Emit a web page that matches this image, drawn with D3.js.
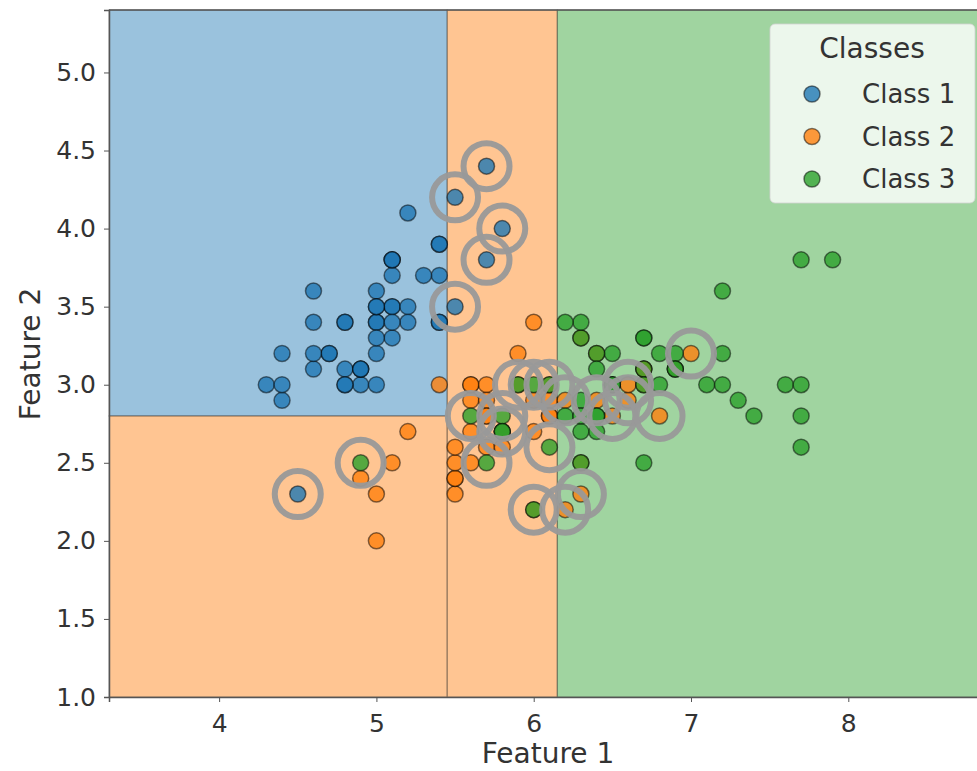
<!DOCTYPE html>
<html>
<head>
<meta charset="utf-8">
<script src="https://cdn.jsdelivr.net/npm/d3@7"></script>
<style>
    body { margin: 0; background: #fff; }
    text { font-family: "DejaVu Sans", sans-serif; fill: #333; }
</style>
</head>
<body>
<script>
// sepal length / sepal width per class
const class1 = [
    [5.1,3.5],[4.9,3.0],[4.7,3.2],[4.6,3.1],[5.0,3.6],[5.4,3.9],[4.6,3.4],[5.0,3.4],[4.4,2.9],[4.9,3.1],
    [5.4,3.7],[4.8,3.4],[4.8,3.0],[4.3,3.0],[5.8,4.0],[5.7,4.4],[5.4,3.9],[5.1,3.5],[5.7,3.8],[5.1,3.8],
    [5.4,3.4],[5.1,3.7],[4.6,3.6],[5.1,3.3],[4.8,3.4],[5.0,3.0],[5.0,3.4],[5.2,3.5],[5.2,3.4],[4.7,3.2],
    [4.8,3.1],[5.4,3.4],[5.2,4.1],[5.5,4.2],[4.9,3.1],[5.0,3.2],[5.5,3.5],[4.9,3.1],[4.4,3.0],[5.1,3.4],
    [5.0,3.5],[4.5,2.3],[4.4,3.2],[5.0,3.5],[5.1,3.8],[4.8,3.0],[5.1,3.8],[4.6,3.2],[5.3,3.7],[5.0,3.3]
]
const class2 = [
    [7.0,3.2],[6.4,3.2],[6.9,3.1],[5.5,2.3],[6.5,2.8],[5.7,2.8],[6.3,3.3],[4.9,2.4],[6.6,2.9],[5.2,2.7],
    [5.0,2.0],[5.9,3.0],[6.0,2.2],[6.1,2.9],[5.6,2.9],[6.7,3.1],[5.6,3.0],[5.8,2.7],[6.2,2.2],[5.6,2.5],
    [5.9,3.2],[6.1,2.8],[6.3,2.5],[6.1,2.8],[6.4,2.9],[6.6,3.0],[6.8,2.8],[6.7,3.0],[6.0,2.9],[5.7,2.6],
    [5.5,2.4],[5.5,2.4],[5.8,2.7],[6.0,2.7],[5.4,3.0],[6.0,3.4],[6.7,3.1],[6.3,2.3],[5.6,3.0],[5.5,2.5],
    [5.5,2.6],[6.1,3.0],[5.8,2.6],[5.0,2.3],[5.6,2.7],[5.7,3.0],[5.7,2.9],[6.2,2.9],[5.1,2.5],[5.7,2.8]
]
const class3 = [
    [6.3,3.3],[5.8,2.7],[7.1,3.0],[6.3,2.9],[6.5,3.0],[7.6,3.0],[4.9,2.5],[7.3,2.9],[6.7,2.5],[7.2,3.6],
    [6.5,3.2],[6.4,2.7],[6.8,3.0],[5.7,2.5],[5.8,2.8],[6.4,3.2],[6.5,3.0],[7.7,3.8],[7.7,2.6],[6.0,2.2],
    [6.9,3.2],[5.6,2.8],[7.7,2.8],[6.3,2.7],[6.7,3.3],[7.2,3.2],[6.2,2.8],[6.1,3.0],[6.4,2.8],[7.2,3.0],
    [7.4,2.8],[7.9,3.8],[6.4,2.8],[6.3,2.8],[6.1,2.6],[7.7,3.0],[6.3,3.4],[6.4,3.1],[6.0,3.0],[6.9,3.1],
    [6.7,3.1],[6.9,3.1],[5.8,2.7],[6.8,3.2],[6.7,3.3],[6.7,3.0],[6.3,2.5],[6.5,3.0],[6.2,3.4],[5.9,3.0]
]

// circled (misclassified) samples
const missed = [
    [5.7,4.4],[5.5,4.2],[5.8,4.0],[5.7,3.8],[5.5,3.5],[4.5,2.3],
    [7.0,3.2],[6.6,3.0],[6.6,2.9],[6.4,2.9],[6.2,2.9],[6.5,2.8],[6.8,2.8],[6.3,2.3],[6.2,2.2],
    [4.9,2.5],[5.6,2.8],[5.8,2.8],[5.8,2.7],[5.7,2.5],[5.9,3.0],[6.0,3.0],[6.1,3.0],[6.1,2.6],[6.0,2.2]
]

// decision regions: [x0, x1, y0, y1, class index]
const regions = [
    [3.3, 5.45, 2.8, 5.4, 0],
    [3.3, 5.45, 1.0, 2.8, 1],
    [5.45, 6.15, 1.0, 5.4, 1],
    [6.15, 8.9, 1.0, 5.4, 2]
]

const classNames = ['Class 1', 'Class 2', 'Class 3']
const xTicks = [4, 5, 6, 7, 8]
const yTicks = [1.0, 1.5, 2.0, 2.5, 3.0, 3.5, 4.0, 4.5, 5.0]

document.addEventListener('DOMContentLoaded', () => {

    const w = 977
    const h = 771
    const left = 109
    const top = 10
    const bottom = 697

    const colors = ['#1f77b4', '#ff7f0e', '#2ca02c']

    const svg = d3.select('body')
        .append('svg')
        .attr('width', w)
        .attr('height', h)

    const x = d3.scaleLinear().domain([3.3, 8.9]).range([left, left + 5.6 * 157.3])
    const y = d3.scaleLinear().domain([1.0, 5.4]).range([bottom, top])

    // regions
    svg.append('g')
        .selectAll('rect')
        .data(regions)
        .enter()
        .append('rect')
        .attr('x', d => x(d[0]))
        .attr('y', d => y(d[3]))
        .attr('width', d => x(d[1]) - x(d[0]))
        .attr('height', d => y(d[2]) - y(d[3]))
        .attr('fill', d => colors[d[4]])
        .attr('fill-opacity', 0.45)
        .attr('stroke', 'rgba(60,60,60,0.4)')
        .attr('stroke-width', 1.2)

    // points
    const groups = [class1, class2, class3]
    groups.forEach((pts, i) => {
        svg.append('g')
            .selectAll('circle')
            .data(pts)
            .enter()
            .append('circle')
            .attr('cx', d => x(d[0]))
            .attr('cy', d => y(d[1]))
            .attr('r', 8)
            .attr('fill', colors[i])
            .attr('fill-opacity', 0.8)
            .attr('stroke', 'rgba(0,0,0,0.5)')
            .attr('stroke-width', 1.5)
    })

    // rings around misclassified points
    svg.append('g')
        .selectAll('circle')
        .data(missed)
        .enter()
        .append('circle')
        .attr('cx', d => x(d[0]))
        .attr('cy', d => y(d[1]))
        .attr('r', 23)
        .attr('fill', 'none')
        .attr('stroke', '#999')
        .attr('stroke-opacity', 0.95)
        .attr('stroke-width', 6)

    // axes
    const xAxis = svg.append('g')
        .attr('transform', `translate(0,${bottom})`)
        .call(d3.axisBottom(x).tickValues(xTicks).tickSize(5).tickPadding(12).tickFormat(d3.format('d')))
    const yAxis = svg.append('g')
        .attr('transform', `translate(${left},0)`)
        .call(d3.axisLeft(y).tickValues(yTicks).tickSize(5).tickPadding(8).tickFormat(d3.format('.1f')))

    ;[xAxis, yAxis].forEach(a => {
        a.select('.domain').attr('stroke', '#555').attr('stroke-width', 1.5)
        a.selectAll('.tick line').attr('stroke', '#555')
        a.selectAll('.tick text')
            .attr('fill', '#333')
            .style('font-size', '25px')
            .style('font-family', '"DejaVu Sans", sans-serif')
    })

    svg.append('line')
        .attr('x1', left).attr('x2', w)
        .attr('y1', top).attr('y2', top)
        .attr('stroke', '#555').attr('stroke-width', 1.5)

    svg.append('text')
        .attr('x', 548)
        .attr('y', 763)
        .attr('text-anchor', 'middle')
        .style('font-size', '28px')
        .text('Feature 1')

    svg.append('text')
        .attr('transform', 'translate(40,354) rotate(-90)')
        .attr('text-anchor', 'middle')
        .style('font-size', '28px')
        .text('Feature 2')

    // legend
    const legend = svg.append('g')
    legend.append('rect')
        .attr('x', 770).attr('y', 24)
        .attr('width', 205).attr('height', 179)
        .attr('rx', 5)
        .attr('fill', 'rgba(255,255,255,0.8)')
        .attr('stroke', 'rgba(210,210,210,0.8)')

    legend.append('text')
        .attr('x', 872).attr('y', 58)
        .attr('text-anchor', 'middle')
        .style('font-size', '28px')
        .text('Classes')

    classNames.forEach((name, i) => {
        const ly = 94 + i * 42.5
        legend.append('circle')
            .attr('cx', 812).attr('cy', ly)
            .attr('r', 8)
            .attr('fill', colors[i])
            .attr('fill-opacity', 0.8)
            .attr('stroke', 'rgba(0,0,0,0.5)')
            .attr('stroke-width', 1.5)
        legend.append('text')
            .attr('x', 862).attr('y', ly + 9)
            .style('font-size', '26px')
            .text(name)
    })
})
</script>
</body>
</html>
